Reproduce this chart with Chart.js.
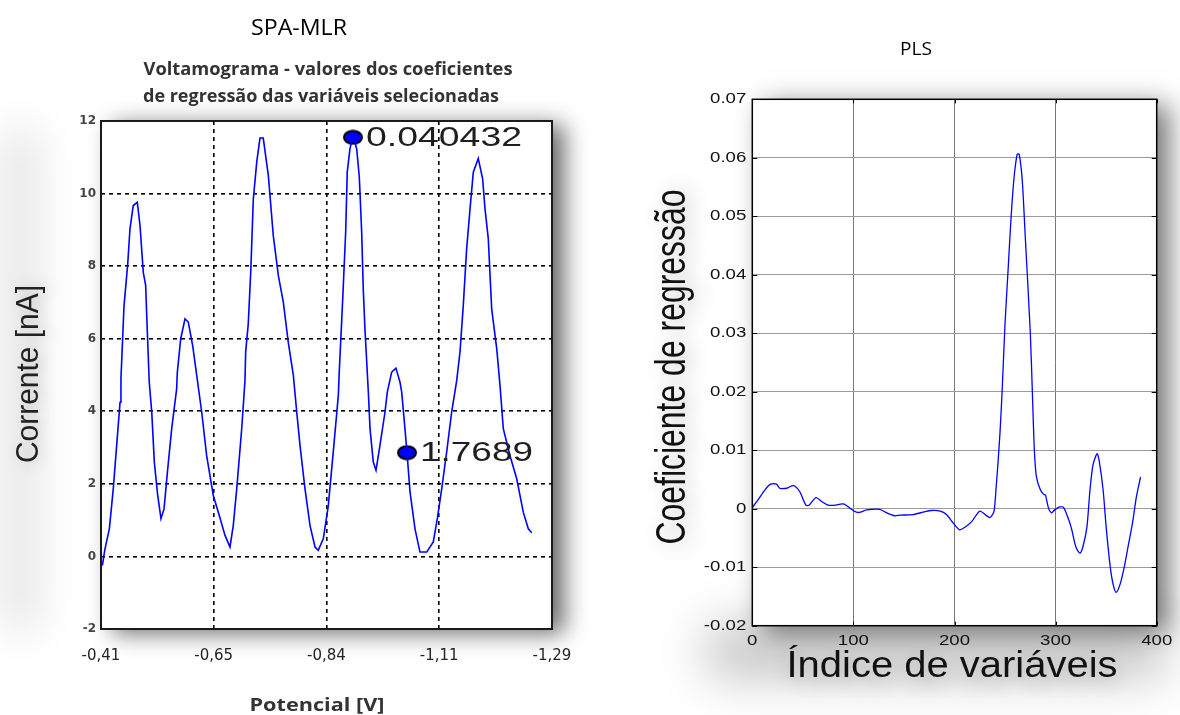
<!DOCTYPE html>
<html lang="pt">
<head>
<meta charset="utf-8">
<title>SPA-MLR e PLS</title>
<script src="https://cdn.jsdelivr.net/npm/chart.js@4"></script>
<style>
  html, body { margin: 0; padding: 0; background: #fff; }
  #painel { position: relative; width: 1180px; height: 715px; overflow: hidden; }
  #graficoSpa { position: absolute; left: 0; top: 0; }
  #graficoPls { position: absolute; left: 590px; top: 0; }
</style>
</head>
<body>
<div id="painel">
  <canvas id="graficoSpa" width="590" height="715"></canvas>
  <canvas id="graficoPls" width="590" height="715"></canvas>
</div>
<script>
// voltamograma (SPA-MLR): posição ao longo do eixo de potencial (0-400) e corrente em nA
const posicaoVolt = [1.2, 3.5, 7.4, 10.9, 13.9, 16.9, 17.7, 20.4, 23.7, 25.7,
  28.6, 32.2, 34.6, 37.5, 39.6, 41.1, 42.8, 45.0, 47.3, 50.3,
  53.2, 55.9, 59.2, 62.7, 67.1, 67.7, 70.7, 74.5, 77.4, 81.3,
  84.9, 89.3, 93.7, 99.6, 104.9, 110.0, 114.4, 117.3, 120.4, 124.8,
  127.7, 128.3, 130.6, 132.8, 135.1, 138.1, 141.0, 143.9, 148.4, 152.8,
  157.3, 161.7, 166.1, 170.6, 173.6, 176.5, 180.9, 185.4, 189.8, 192.7,
  197.2, 201.6, 206.0, 210.5, 211.3, 214.4, 217.0, 218.4, 220.8, 223.5,
  226.8, 229.1, 231.2, 232.6, 234.1, 237.1, 238.6, 241.5, 243.9, 247.4,
  251.9, 253.9, 257.8, 261.6, 265.2, 266.7, 269.6, 271.4, 274.1, 278.5,
  282.9, 288.9, 294.7, 298.3, 302.2, 306.6, 311.0, 315.5, 318.4, 321.3,
  324.3, 327.3, 330.2, 334.6, 338.5, 340.6, 343.5, 346.5, 351.0, 353.9,
  356.8, 362.7, 368.7, 374.5, 379.0, 382.0];
const correnteVolt = [-0.25, 0.2, 0.76, 1.87, 3.06, 4.25, 4.9, 6.9, 8.06, 9.03,
  9.67, 9.76, 9.12, 7.83, 7.47, 6.18, 4.8, 3.98, 2.6, 1.68,
  1.04, 1.31, 2.42, 3.52, 4.62, 5.08, 6.0, 6.55, 6.46, 5.81,
  4.99, 3.98, 2.78, 1.68, 1.13, 0.58, 0.26, 0.85, 1.87, 3.52,
  4.85, 5.63, 6.41, 7.83, 9.85, 10.86, 11.53, 11.53, 10.5, 8.84,
  7.74, 7.01, 5.9, 4.99, 3.98, 3.06, 1.87, 0.85, 0.26, 0.17,
  0.49, 1.4, 2.88, 4.44, 5.08, 7.1, 8.94, 10.59, 11.23, 11.6,
  11.23, 10.45, 8.94, 7.37, 6.27, 4.53, 3.52, 2.6, 2.37, 3.06,
  3.98, 4.53, 5.08, 5.19, 4.8, 4.53, 3.52, 2.86, 1.77, 0.76,
  0.12, 0.12, 0.4, 1.04, 1.87, 2.88, 3.98, 4.85, 5.63, 6.91,
  8.48, 9.58, 10.59, 10.97, 10.4, 9.58, 8.75, 6.82, 5.72, 4.71,
  3.52, 2.78, 2.14, 1.22, 0.76, 0.65];
const rotulosPotencial = ["-0,41", "-0,65", "-0,84", "-1,11", "-1,29"];

// variáveis escolhidas pelo SPA e o coeficiente de cada uma
const selecionadasX = [223.5, 271.4];
const selecionadasY = [11.55, 2.86];
const coeficientesSel = ["0.040432", "1.7689"];

// coeficientes de regressão do modelo PLS por índice de variável
const indiceVar = [0, 6, 12, 18, 24, 27, 34, 39, 42, 47,
  53, 56, 63, 69, 75, 82, 87, 91, 98, 103,
  107, 113, 126, 133, 141, 146, 159, 169, 177, 186,
  192, 199, 205, 210, 217, 225, 231, 235, 239, 241,
  243, 245, 247, 250, 253, 256, 259, 262, 264, 267,
  270, 275, 277, 279, 281, 285, 288, 290, 293, 296,
  299, 304, 308, 313, 316, 320, 324, 327, 331, 334,
  337, 341, 343, 347, 350, 354, 357, 360, 364, 368,
  372, 376, 380, 384];
const coefPls = [0.0002, 0.0016, 0.0031, 0.0042, 0.0042, 0.0035, 0.0035, 0.0039, 0.0039, 0.0029,
  0.0006, 0.0006, 0.0019, 0.0012, 0.0006, 0.0006, 0.0008, 0.0008, -0.0001, -0.0006,
  -0.0006, -0.0002, -0.0001, -0.0007, -0.0012, -0.0011, -0.0010, -0.0006, -0.0003, -0.0004,
  -0.0010, -0.0025, -0.0036, -0.0032, -0.0022, -0.0004, -0.0011, -0.0015, -0.0005, 0.0032,
  0.0078, 0.0130, 0.0197, 0.0317, 0.0408, 0.0499, 0.0568, 0.0606, 0.0606, 0.0562,
  0.0465, 0.0300, 0.0200, 0.0100, 0.0055, 0.0032, 0.0025, 0.0023, 0.0001, -0.0007,
  -0.0002, 0.0003, 0.0002, -0.0019, -0.0036, -0.0065, -0.0076, -0.0065, -0.0031, 0.0032,
  0.0075, 0.0094, 0.0083, 0.0032, -0.0031, -0.0099, -0.0130, -0.0143, -0.0128, -0.0099,
  -0.0062, -0.0025, 0.0021, 0.0054];

const pares = (xs, ys) => xs.map((x, i) => ({ x: x, y: ys[i] }));

// texto esticado para ocupar uma largura dada (o eixo "largura" segue o texto)
function textoAjustado(ctx, txt, x, y, fonte, largura, opts = {}) {
  ctx.save();
  ctx.font = fonte;
  const w = ctx.measureText(txt).width;
  if (opts.sombra) {
    ctx.shadowColor = opts.sombra[0];
    ctx.shadowBlur = opts.sombra[1];
    ctx.shadowOffsetX = opts.sombra[2];
    ctx.shadowOffsetY = opts.sombra[3];
  }
  ctx.translate(x, y);
  if (opts.rot) ctx.rotate(opts.rot);
  ctx.scale(largura / w, opts.escalaY || 1);
  ctx.textAlign = opts.align || "center";
  ctx.textBaseline = opts.base || "alphabetic";
  ctx.fillStyle = opts.cor || "#000";
  ctx.fillText(txt, 0, 0);
  ctx.restore();
}

function textoLargo(ctx, txt, x, y, fonte, esc, align, base, cor) {
  ctx.save();
  ctx.font = fonte;
  ctx.translate(x, y);
  ctx.scale(esc, 1);
  ctx.textAlign = align;
  ctx.textBaseline = base;
  ctx.fillStyle = cor;
  ctx.fillText(txt, 0, 0);
  ctx.restore();
}

// só a sombra desfocada de um retângulo (o retângulo fica fora da tela)
function neblina(ctx, l, t, r, b, cor, blur, dx, dy) {
  ctx.save();
  ctx.shadowColor = cor;
  ctx.shadowBlur = blur;
  ctx.shadowOffsetX = dx + 5000;
  ctx.shadowOffsetY = dy;
  ctx.fillStyle = "#000";
  ctx.fillRect(l - 5000, t, r - l, b - t);
  ctx.restore();
}

// fundo branco da área do gráfico com sombra projetada, mais neblinas extras
const sombra = (caixa, extras) => ({
  id: "sombra",
  beforeDraw(chart) {
    const { ctx, chartArea: a } = chart;
    extras.forEach((e) => neblina(ctx, ...e));
    ctx.save();
    ctx.shadowColor = caixa[0];
    ctx.shadowBlur = caixa[1];
    ctx.shadowOffsetX = caixa[2];
    ctx.shadowOffsetY = caixa[3];
    ctx.fillStyle = "#fff";
    ctx.fillRect(a.left, a.top, a.right - a.left, a.bottom - a.top);
    ctx.restore();
  },
});

// marcador elíptico azul com contorno preto
const elipse = document.createElement("canvas");
elipse.width = 22;
elipse.height = 16;
(function () {
  const c = elipse.getContext("2d");
  c.beginPath();
  c.ellipse(11, 8, 9, 6.5, 0, 0, Math.PI * 2);
  c.fillStyle = "#0000ff";
  c.fill();
  c.lineWidth = 2;
  c.strokeStyle = "#000";
  c.stroke();
})();

const textosSpa = {
  id: "textosSpa",
  afterDraw(chart) {
    const { ctx, chartArea: a } = chart;
    ctx.save();
    ctx.strokeStyle = "#1a1a1a";
    ctx.lineWidth = 2;
    ctx.strokeRect(a.left, a.top, a.right - a.left, a.bottom - a.top);
    ctx.restore();

    // coeficientes ao lado dos marcadores
    const pts = chart.getDatasetMeta(1).data;
    const largurasRot = [156, 113];
    pts.forEach((p, i) => {
      textoAjustado(ctx, coeficientesSel[i], p.x + 13, p.y + 1, '27px "Liberation Sans"',
        largurasRot[i], { align: "left", base: "middle", cor: "#1e1e1e" });
    });

    textoAjustado(ctx, "SPA-MLR", 299, 35, '21px "Open Sans"', 96, { cor: "#000" });
    textoAjustado(ctx, "Voltamograma - valores dos coeficientes", 328, 75,
      'bold 18px "Open Sans"', 369, { cor: "#333" });
    textoAjustado(ctx, "de regressão das variáveis selecionadas", 321, 102,
      'bold 18px "Open Sans"', 356, { cor: "#333" });
    textoAjustado(ctx, "Potencial [V]", 317, 711, 'bold 18px "Open Sans"', 135, { cor: "#333" });
    textoAjustado(ctx, "Corrente [nA]", 38, 374, '28px "Liberation Sans"', 178,
      { rot: -Math.PI / 2, escalaY: 1.1, cor: "#222", sombra: ["rgba(0,0,0,0.3)", 18, 4, 0] });
  },
};

new Chart(document.getElementById("graficoSpa"), {
  type: "line",
  data: {
    datasets: [
      {
        data: pares(posicaoVolt, correnteVolt),
        borderColor: "#0000ff",
        borderWidth: 1.6,
        pointRadius: 0,
        tension: 0,
      },
      {
        type: "scatter",
        data: pares(selecionadasX, selecionadasY),
        pointStyle: elipse,
        pointRadius: 9,
        showLine: false,
      },
    ],
  },
  options: {
    responsive: false,
    animation: false,
    layout: { padding: { left: 0, top: 121, right: 38, bottom: 36 } },
    plugins: { legend: { display: false }, tooltip: { enabled: false } },
    scales: {
      x: {
        type: "linear",
        min: 0,
        max: 400,
        afterFit: (s) => { s.height = 50; },
        grid: { color: "#000", lineWidth: 1.6, drawTicks: false },
        border: { display: false, dash: [4, 4] },
        ticks: {
          stepSize: 100,
          padding: 18,
          color: "#222",
          font: { family: "DejaVu Sans", size: 15 },
          callback: (v) => rotulosPotencial[Math.round(v / 100)],
        },
      },
      y: {
        min: -2,
        max: 12,
        afterFit: (s) => { s.width = 101; },
        grid: { color: "#000", lineWidth: 1.6, drawTicks: false },
        border: { display: false, dash: [4, 4] },
        ticks: {
          stepSize: 2,
          padding: 5,
          color: "#444",
          font: { family: "DejaVu Sans", size: 12, weight: "bold" },
        },
      },
    },
  },
  plugins: [
    sombra(["rgba(0,0,0,0.6)", 22, 12, 4], [
      [0, 130, 40, 630, "rgba(0,0,0,0.10)", 40, 0, 0],
    ]),
    textosSpa,
  ],
});

const fmtCoef = (v) => (Math.abs(v) < 1e-9 ? "0" : v.toFixed(2));

const textosPls = {
  id: "textosPls",
  afterDraw(chart) {
    const { ctx, chartArea: a, scales } = chart;
    const sx = scales.x, sy = scales.y;
    ctx.save();
    ctx.strokeStyle = "#000";
    ctx.lineWidth = 1;
    ctx.beginPath();
    // marcas internas nos quatro lados
    sy.ticks.forEach((t) => {
      const y = Math.round(sy.getPixelForValue(t.value)) + 0.5;
      ctx.moveTo(a.left, y); ctx.lineTo(a.left + 5, y);
      ctx.moveTo(a.right, y); ctx.lineTo(a.right - 5, y);
    });
    sx.ticks.forEach((t) => {
      const x = Math.round(sx.getPixelForValue(t.value)) + 0.5;
      ctx.moveTo(x, a.top); ctx.lineTo(x, a.top + 4);
      ctx.moveTo(x, a.bottom); ctx.lineTo(x, a.bottom - 4);
    });
    ctx.stroke();
    ctx.lineWidth = 1.5;
    ctx.strokeRect(a.left, a.top, a.right - a.left, a.bottom - a.top);
    ctx.restore();

    sy.ticks.forEach((t) => {
      textoLargo(ctx, fmtCoef(t.value), a.left - 6, sy.getPixelForValue(t.value),
        '14px "Liberation Sans"', 1.33, "right", "middle", "#111");
    });
    sx.ticks.forEach((t) => {
      textoLargo(ctx, String(t.value), sx.getPixelForValue(t.value), a.bottom + 15,
        '14px "Liberation Sans"', 1.33, "center", "middle", "#111");
    });

    textoAjustado(ctx, "PLS", 326, 55, '18px "Open Sans"', 32, { cor: "#000" });
    textoAjustado(ctx, "Coeficiente de regressão", 95, 367, '32px "Liberation Sans"', 355,
      { rot: -Math.PI / 2, escalaY: 1.3, cor: "#111", sombra: ["rgba(0,0,0,0.3)", 22, 6, 0] });
    textoAjustado(ctx, "Índice de variáveis", 362, 677, '36px "Liberation Sans"', 331,
      { cor: "#111", sombra: ["rgba(0,0,0,0.25)", 22, 0, 8] });
  },
};

new Chart(document.getElementById("graficoPls"), {
  type: "line",
  data: {
    datasets: [
      {
        data: pares(indiceVar, coefPls),
        borderColor: "#0000ff",
        borderWidth: 1.3,
        pointRadius: 0,
        tension: 0.25,
      },
    ],
  },
  options: {
    responsive: false,
    animation: false,
    layout: { padding: { left: 0, top: 99.3, right: 23.3, bottom: 39.3 } },
    plugins: { legend: { display: false }, tooltip: { enabled: false } },
    scales: {
      x: {
        type: "linear",
        min: 0,
        max: 400,
        afterFit: (s) => { s.height = 50; },
        grid: { color: "#777", lineWidth: 1, drawTicks: false },
        border: { display: false },
        ticks: { stepSize: 100, display: false },
      },
      y: {
        min: -0.02,
        max: 0.07,
        afterFit: (s) => { s.width = 162.3; },
        grid: { color: "#9a9a9a", lineWidth: 1, drawTicks: false },
        border: { display: false },
        ticks: { stepSize: 0.01, display: false },
      },
    },
  },
  plugins: [
    sombra(["rgba(0,0,0,0.55)", 26, 12, 6], [
      [110, 610, 566.7, 660, "rgba(0,0,0,0.25)", 50, 8, 16],
    ]),
    textosPls,
  ],
});
</script>
</body>
</html>
